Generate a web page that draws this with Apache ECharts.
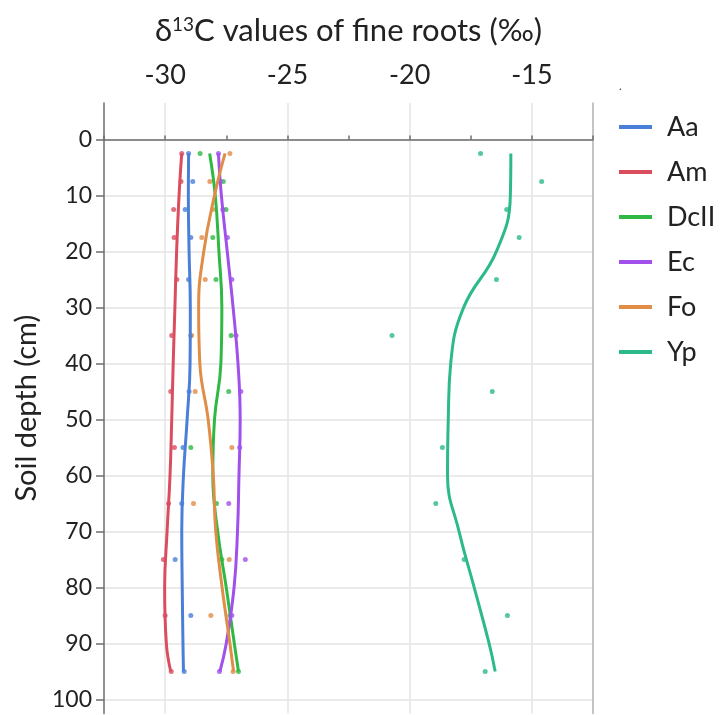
<!DOCTYPE html>
<html>
<head>
<meta charset="utf-8">
<script src="https://cdn.jsdelivr.net/npm/echarts@6/dist/echarts.min.js"></script>
<style>
html,body{margin:0;padding:0;background:#fff;}
#chart{width:721px;height:715px;}
</style>
</head>
<body>
<div id="chart"></div>
<script>
// Sampling depths (cm) of the measured points
const depths = [2.5, 7.5, 12.5, 17.5, 25, 35, 45, 55, 65, 75, 85, 95];
// Depths at which the fitted curves are read
const lineDepths = [2.5, 10, 20, 30, 40, 50, 60, 70, 80, 90, 95];

const seriesNames = ['Aa', 'Am', 'DcII', 'Ec', 'Fo', 'Yp'];
const seriesColors = ['#4a7fd9', '#d94d5f', '#2fb844', '#a150ec', '#e08d47', '#2cb98c'];

// measured δ13C values (‰)
const aaPoints   = [-29.04, -28.87, -29.18, -28.95, -29.04, -28.95, -29.02, -29.27, -29.32, -29.59, -28.95, -29.22];
const amPoints   = [-29.32, -29.35, -29.65, -29.63, -29.52, -29.73, -29.77, -29.62, -29.86, -30.07, -30.00, -29.75];
const dcPoints   = [-28.57, -27.62, -27.51, -28.05, -27.92, -27.30, -27.40, -28.95, -27.90, -27.68, -27.35, -27.00];
const ecPoints   = [-27.82, -27.75, -27.64, -27.45, -27.27, -27.10, -26.90, -26.95, -27.40, -26.72, -27.27, -27.78];
const foPoints   = [-27.35, -28.17, -28.05, -28.50, -28.36, -28.92, -28.77, -27.27, -28.84, -27.38, -28.13, -27.22];
const ypPoints   = [-17.10, -14.60, -16.03, -15.52, -16.45, -20.72, -16.62, -18.66, -18.93, -17.77, -16.00, -16.91];

// fitted curves (‰) at lineDepths
const aaFit = [-29.04, -29.05, -29.02, -28.97, -28.98, -29.10, -29.25, -29.32, -29.30, -29.27, -29.25];
const amFit = [-29.32, -29.43, -29.53, -29.60, -29.67, -29.73, -29.80, -29.92, -30.02, -29.95, -29.77];
const dcFit = [-28.18, -27.95, -27.80, -27.68, -27.72, -27.98, -28.05, -27.85, -27.50, -27.17, -27.00];
const ecFit = [-27.82, -27.70, -27.46, -27.22, -27.02, -26.93, -26.98, -27.04, -27.18, -27.50, -27.76];
const foFit = [-27.55, -27.98, -28.42, -28.63, -28.58, -28.24, -28.03, -27.93, -27.67, -27.35, -27.20];
const ypFit = [-15.86, -15.88, -16.45, -17.79, -18.32, -18.42, -18.45, -17.98, -17.36, -16.75, -16.50];

// axis ticks
const xTickValues = [-32.5, -30, -27.5, -25, -22.5, -20, -17.5, -15, -12.5];
const xLabelValues = [-30, -25, -20, -15];
const yTickValues = [0, 10, 20, 30, 40, 50, 60, 70, 80, 90, 100];

const pointsList = [aaPoints, amPoints, dcPoints, ecPoints, foPoints, ypPoints];
const fitList = [aaFit, amFit, dcFit, ecFit, foFit, ypFit];

const FONT = 'Lato';
const series = [];
seriesNames.forEach((name, k) => {
  series.push({
    name: name,
    type: 'line',
    xAxisIndex: 0, yAxisIndex: 0,
    data: lineDepths.map((d, i) => [fitList[k][i], d]),
    smooth: 0.45,
    showSymbol: false,
    lineStyle: {width: 3, color: seriesColors[k]},
    itemStyle: {color: seriesColors[k]},
    z: 3
  });
});
seriesNames.forEach((name, k) => {
  series.push({
    name: name,
    type: 'scatter',
    xAxisIndex: 0, yAxisIndex: 0,
    data: depths.map((d, i) => [pointsList[k][i], d]),
    symbolSize: 5,
    itemStyle: {color: seriesColors[k]},
    z: 2
  });
});

const chart = echarts.init(document.getElementById('chart'));
chart.setOption({
  animation: false,
  backgroundColor: '#fff',
  textStyle: {fontFamily: FONT},
  grid: {left: 104, right: 128, top: 103, bottom: 1.5},
  legend: {
    data: seriesNames,
    orient: 'vertical',
    left: 619, top: 113,
    itemWidth: 33, itemHeight: 4, itemGap: 17,
    icon: 'rect',
    padding: 0,
    textStyle: {fontFamily: FONT, fontSize: 27, color: '#222', lineHeight: 28, padding: [0, 0, 0, 10]}
  },
  xAxis: [{
    type: 'value', position: 'top',
    min: -32.5, max: -12.5,
    name: '{a|δ}{s|13}{a|C values of fine roots (‰)}',
    nameLocation: 'middle', nameGap: 57,
    nameTextStyle: {
      rich: {
        a: {fontFamily: FONT, fontSize: 31, color: '#222'},
        s: {fontFamily: FONT, fontSize: 19, color: '#222', verticalAlign: 'top', padding: [0, 0, 12, 0]}
      }
    },
    axisLine: {show: true, lineStyle: {color: '#6e6e6e', width: 1.5}},
    axisTick: {show: true, inside: false, length: 4, customValues: xTickValues, lineStyle: {color: '#6e6e6e', width: 1.5}},
    axisLabel: {customValues: xLabelValues, fontFamily: FONT, fontSize: 27, color: '#222', margin: 14},
    splitLine: {show: false}
  }, {
    type: 'value', position: 'top',
    min: -32.5, max: -12.5,
    axisLine: {show: false},
    axisTick: {show: false, customValues: xLabelValues},
    axisLabel: {show: false, customValues: xLabelValues},
    splitLine: {show: true, lineStyle: {color: '#e4e4e4', width: 1.5}}
  }],
  yAxis: [{
    type: 'value', inverse: true,
    min: -6.5, max: 102.5,
    name: 'Soil depth (cm)',
    nameLocation: 'middle', nameGap: 62,
    nameTextStyle: {fontFamily: FONT, fontSize: 29, color: '#222'},
    axisLine: {show: true, lineStyle: {color: '#6e6e6e', width: 1.5}},
    axisTick: {show: true, length: 8, customValues: yTickValues, lineStyle: {color: '#6e6e6e', width: 1.5}},
    axisLabel: {customValues: yTickValues, fontFamily: FONT, fontSize: 23, color: '#222', margin: 12},
    splitLine: {show: true, lineStyle: {color: '#e4e4e4', width: 1.5}}
  }, {
    type: 'value', inverse: true, position: 'right',
    min: -6.5, max: 102.5,
    axisLine: {show: true, lineStyle: {color: '#b0b0b0', width: 1.5}},
    axisTick: {show: false},
    axisLabel: {show: false},
    splitLine: {show: false}
  }],
  graphic: [{
    type: 'text', left: 619, top: 80,
    style: {text: '.', fontSize: 12, fill: '#444', fontFamily: FONT}
  }],
  series: series
});
</script>
</body>
</html>
